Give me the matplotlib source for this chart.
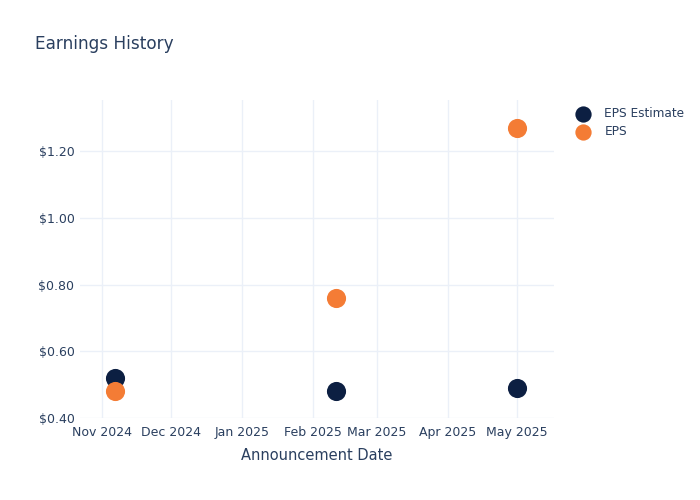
import matplotlib
matplotlib.use("Agg")
import matplotlib.dates as mdates
import matplotlib.pyplot as plt
import matplotlib.ticker as mticker
import pandas as pd

TEXT = "#2a3f5f"
GRID = "#ebf0f8"
NAVY = "#0c1f42"
ORANGE = "#f47c35"

dates = pd.to_datetime(["2024-11-06 18:00", "2025-02-11 00:00", "2025-05-01 00:00"])
eps_estimate = [0.52, 0.48, 0.49]
eps_actual = [0.48, 0.76, 1.27]

fig = plt.figure(figsize=(7, 5), dpi=100)
ax = fig.add_axes([80 / 700, 82 / 500, 474 / 700, 318 / 500])

ax.scatter(dates, eps_estimate, s=190, color=NAVY, zorder=3,
           label="EPS Estimate", linewidths=0)
ax.scatter(dates, eps_actual, s=190, color=ORANGE, zorder=3,
           label="EPS", linewidths=0)

ax.set_xlim(pd.Timestamp("2024-10-22 06:00"), pd.Timestamp("2025-05-17 06:00"))
ax.set_ylim(0.40, 1.353)

ax.xaxis.set_major_locator(mdates.MonthLocator())
ax.xaxis.set_major_formatter(mdates.DateFormatter("%b %Y"))
ax.yaxis.set_major_locator(mticker.MultipleLocator(0.2))
ax.yaxis.set_major_formatter(mticker.FuncFormatter(lambda v, p: f"${v:.2f}"))

ax.grid(True, color=GRID, linewidth=1)
ax.set_axisbelow(True)
for s in ax.spines.values():
    s.set_visible(False)
ax.tick_params(length=0, labelsize=9, colors=TEXT, pad=6)
ax.tick_params(axis="y", pad=4)

ax.set_xlabel("Announcement Date", fontsize=10.5, color=TEXT, labelpad=6)

fig.text(35 / 700, 1 - 44 / 500, "Earnings History", fontsize=12.2,
         color=TEXT, va="center", ha="left")

leg = ax.legend(loc="upper left", bbox_to_anchor=(1.013, 1.013), frameon=False,
                fontsize=8.7, labelcolor=TEXT, handletextpad=0.75,
                labelspacing=0.45, markerscale=0.85)

fig.savefig("out.png", dpi=100)
